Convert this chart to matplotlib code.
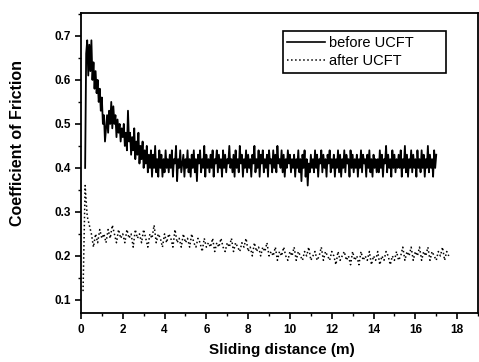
import numpy as np
import matplotlib
matplotlib.use("Agg")
from matplotlib import pyplot as plt
from matplotlib.ticker import MultipleLocator

# friction coefficient
# before UCFT: 0.05 m steps from 0.2 m to 17.0 m
before = [
    0.40, 0.66, 0.69, 0.61, 0.68, 0.62, 0.69, 0.60, 0.64, 0.58, 0.62, 0.57, 0.60, 0.55, 0.58, 0.53, 0.56, 0.50, 0.52, 0.46,
    0.49, 0.52, 0.48, 0.53, 0.50, 0.55, 0.49, 0.54, 0.50, 0.52, 0.47, 0.51, 0.48, 0.50, 0.46, 0.49, 0.47, 0.50, 0.45, 0.48,
    0.44, 0.53, 0.46, 0.48, 0.43, 0.47, 0.44, 0.49, 0.42, 0.46, 0.43, 0.48, 0.41, 0.45, 0.42, 0.46, 0.40, 0.44, 0.41, 0.45,
    0.39, 0.43, 0.40, 0.44, 0.38, 0.43, 0.40, 0.45, 0.39, 0.42, 0.38, 0.44, 0.40, 0.43, 0.38, 0.42, 0.39, 0.44, 0.40, 0.42,
    0.39, 0.43, 0.40, 0.44, 0.38, 0.42, 0.41, 0.45, 0.37, 0.42, 0.40, 0.44, 0.39, 0.41, 0.43, 0.38, 0.42, 0.40, 0.44, 0.39,
    0.42, 0.38, 0.43, 0.40, 0.44, 0.39, 0.42, 0.37, 0.43, 0.41, 0.44, 0.39, 0.42, 0.40, 0.45, 0.38, 0.43, 0.40, 0.42, 0.39,
    0.43, 0.40, 0.44, 0.38, 0.42, 0.41, 0.44, 0.39, 0.43, 0.40, 0.42, 0.38, 0.44, 0.40, 0.43, 0.39, 0.42, 0.41, 0.45, 0.40,
    0.42, 0.39, 0.43, 0.38, 0.44, 0.40, 0.42, 0.39, 0.45, 0.41, 0.43, 0.38, 0.42, 0.40, 0.44, 0.39, 0.43, 0.40, 0.42, 0.38,
    0.43, 0.41, 0.45, 0.39, 0.42, 0.40, 0.44, 0.38, 0.43, 0.41, 0.44, 0.39, 0.42, 0.40, 0.43, 0.38, 0.44, 0.41, 0.42, 0.39,
    0.44, 0.40, 0.43, 0.39, 0.45, 0.41, 0.42, 0.40, 0.44, 0.39, 0.43, 0.38, 0.42, 0.40, 0.44, 0.41, 0.43, 0.39, 0.42, 0.40,
    0.43, 0.38, 0.42, 0.40, 0.44, 0.39, 0.42, 0.37, 0.43, 0.40, 0.44, 0.38, 0.42, 0.36, 0.41, 0.39, 0.43, 0.40, 0.42, 0.39,
    0.44, 0.40, 0.43, 0.38, 0.42, 0.41, 0.44, 0.39, 0.43, 0.40, 0.42, 0.38, 0.43, 0.41, 0.44, 0.39, 0.42, 0.40, 0.43, 0.38,
    0.42, 0.40, 0.44, 0.39, 0.43, 0.38, 0.42, 0.40, 0.44, 0.39, 0.43, 0.41, 0.42, 0.38, 0.44, 0.40, 0.43, 0.39, 0.42, 0.40,
    0.43, 0.38, 0.42, 0.40, 0.44, 0.39, 0.43, 0.41, 0.42, 0.38, 0.43, 0.40, 0.44, 0.39, 0.42, 0.38, 0.43, 0.40, 0.42, 0.39,
    0.42, 0.39, 0.44, 0.40, 0.43, 0.38, 0.42, 0.41, 0.45, 0.39, 0.43, 0.40, 0.42, 0.38, 0.44, 0.40, 0.43, 0.39, 0.42, 0.40,
    0.43, 0.40, 0.44, 0.38, 0.42, 0.40, 0.45, 0.39, 0.43, 0.38, 0.42, 0.40, 0.44, 0.39, 0.43, 0.40, 0.42, 0.38, 0.44, 0.40,
    0.42, 0.39, 0.44, 0.40, 0.43, 0.38, 0.42, 0.40, 0.45, 0.39, 0.43, 0.40, 0.42, 0.38, 0.44, 0.40, 0.43,
]
# after UCFT: 0.1 m steps from 0.1 m to 17.6 m
after = [
    0.12, 0.36, 0.29, 0.27, 0.25, 0.22, 0.25, 0.23, 0.26, 0.24,
    0.25, 0.23, 0.26, 0.24, 0.27, 0.25, 0.23, 0.26, 0.24, 0.25,
    0.23, 0.26, 0.24, 0.25, 0.22, 0.26, 0.24, 0.25, 0.23, 0.26,
    0.24, 0.22, 0.25, 0.24, 0.27, 0.23, 0.25, 0.24, 0.22, 0.25,
    0.23, 0.25, 0.24, 0.22, 0.26, 0.23, 0.24, 0.22, 0.25, 0.23,
    0.24, 0.22, 0.25, 0.23, 0.22, 0.24, 0.23, 0.21, 0.24, 0.22,
    0.23, 0.22, 0.24, 0.21, 0.23, 0.22, 0.24, 0.22, 0.21, 0.23,
    0.22, 0.24, 0.21, 0.23, 0.22, 0.21, 0.23, 0.22, 0.24, 0.21,
    0.22, 0.20, 0.23, 0.21, 0.22, 0.20, 0.22, 0.21, 0.23, 0.20,
    0.21, 0.20, 0.22, 0.19, 0.21, 0.20, 0.22, 0.20, 0.19, 0.21,
    0.20, 0.22, 0.19, 0.21, 0.20, 0.19, 0.21, 0.20, 0.22, 0.19,
    0.20, 0.21, 0.19, 0.20, 0.22, 0.19, 0.21, 0.20, 0.19, 0.21,
    0.20, 0.18, 0.21, 0.19, 0.20, 0.21, 0.19, 0.20, 0.18, 0.21,
    0.19, 0.20, 0.18, 0.21, 0.19, 0.20, 0.19, 0.21, 0.18, 0.20,
    0.19, 0.21, 0.18, 0.20, 0.19, 0.21, 0.20, 0.18, 0.20, 0.19,
    0.21, 0.19, 0.20, 0.22, 0.19, 0.21, 0.20, 0.22, 0.19, 0.21,
    0.20, 0.22, 0.19, 0.21, 0.20, 0.22, 0.19, 0.21, 0.20, 0.19,
    0.21, 0.20, 0.22, 0.19, 0.21, 0.20,
]
before_start, before_end = 0.2, 17.0
after_start, after_end = 0.1, 17.6

x_before = np.linspace(before_start, before_end, len(before))
x_after = np.linspace(after_start, after_end, len(after))

plt.rcParams['font.family'] = ['Liberation Sans', 'DejaVu Sans']

fig = plt.figure(figsize=(4.79, 3.62), dpi=100)
ax = fig.add_axes([0.169, 0.135, 0.829, 0.829])

ax.plot(x_before, before, color='black', lw=1.3, label='before UCFT')
ax.plot(x_after, after, color='black', lw=1.1, ls=':', label='after UCFT')

ax.set_xlim(0, 19)
ax.set_ylim(0.07, 0.752)
ax.xaxis.set_major_locator(MultipleLocator(2))
ax.xaxis.set_minor_locator(MultipleLocator(1))
ax.yaxis.set_major_locator(MultipleLocator(0.1))
ax.yaxis.set_minor_locator(MultipleLocator(0.05))
ax.tick_params(which='major', direction='out', length=4, width=1.2, labelsize=8.5)
ax.tick_params(which='minor', direction='out', length=2.5, width=1)
for lab in ax.get_xticklabels() + ax.get_yticklabels():
    lab.set_fontweight('bold')
for s in ax.spines.values():
    s.set_linewidth(1.3)

ax.set_xlabel('Sliding distance (m)', fontsize=11, fontweight='bold')
ax.set_ylabel('Coefficient of Friction', fontsize=11.5, fontweight='bold')
ax.xaxis.set_label_coords(0.505, -0.10)
ax.yaxis.set_label_coords(-0.141, 0.567)

leg = ax.legend(loc='upper right', bbox_to_anchor=(0.49, 0.80, 0.447, 0.163),
                mode='expand', fontsize=10.5, fancybox=False, framealpha=1,
                edgecolor='black', handlelength=2.6, borderpad=0.3,
                labelspacing=0.3, handletextpad=0.3)
leg.get_frame().set_linewidth(1.2)
leg.get_lines()[0].set_linewidth(1.2)

plt.savefig('out.png', dpi=100)
